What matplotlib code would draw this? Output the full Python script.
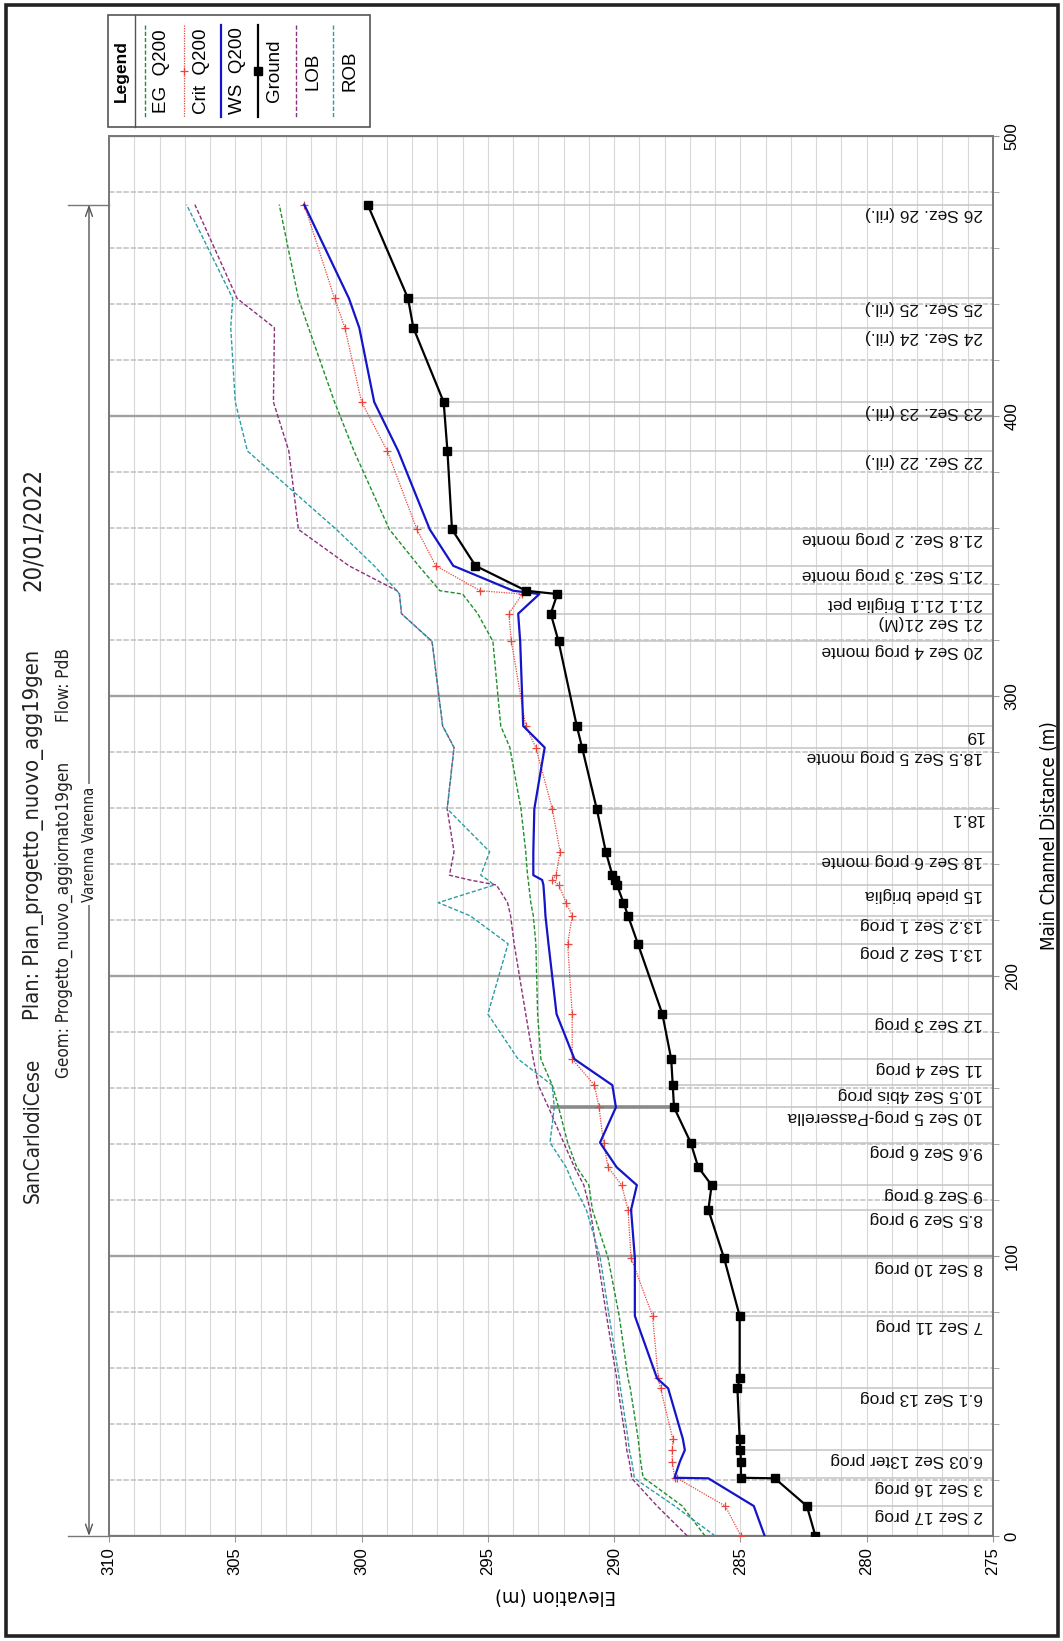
import matplotlib
matplotlib.use("Agg")
import matplotlib.pyplot as plt
import matplotlib.transforms as mtransforms
from matplotlib import font_manager
from matplotlib.patches import Rectangle

W, H = 1063, 1641

# sezioni: distanza lungo l'asta principale (m)
dist = [0.0, 10.7, 20.6, 20.8, 26.5, 30.7, 34.7, 52.7, 56.3, 78.6,
        99.3, 116.5, 125.3, 131.7, 140.5, 153.1, 161.0, 170.3, 186.4, 211.5,
        221.5, 226.2, 232.5, 234.3, 236.0, 244.4, 259.7, 281.6, 289.3, 319.5,
        329.4, 336.4, 337.6, 346.5, 359.5, 387.5, 405.0, 431.5, 442.0, 475.5]
labels = ['', '2 Sez 17 prog', '3 Sez 16 prog', '', '', '6.03 Sez 13ter prog', '', '6.1 Sez 13 prog', '', '7 Sez 11 prog',
          '8 Sez 10 prog', '8.5 Sez 9 prog', '9 Sez 8 prog', '', '9.6 Sez 6 prog', '10 Sez 5 prog-Passerella',
          '10.5 Sez 4bis prog', '11 Sez 4 prog', '12 Sez 3 prog', '13.1 Sez 2 prog',
          '13.2 Sez 1 prog', '', '15 piede briglia', '', '', '18 Sez 6 prog monte', '18.1', '18.5 Sez 5 prog monte', '19',
          '20 Sez 4 prog monte', '21 Sez 21(M)', '21.1 21.1 Briglia pet', '', '21.5 Sez. 3 prog monte',
          '21.8 Sez. 2 prog monte', '22 Sez. 22 (ril.)', '23 Sez. 23 (ril.)', '24 Sez. 24 (ril.)',
          '25 Sez. 25 (ril.)', '26 Sez. 26 (ril.)']
ground = [282.03, 282.37, 283.64, 284.98, 284.98, 285.0, 285.03, 285.12, 285.03, 285.03,
          285.65, 286.27, 286.14, 286.67, 286.97, 287.63, 287.68, 287.74, 288.09, 289.06,
          289.45, 289.63, 289.89, 289.98, 290.07, 290.33, 290.69, 291.27, 291.48, 292.2,
          292.51, 292.25, 293.49, 295.49, 296.42, 296.6, 296.75, 297.95, 298.16, 299.76]
ws_q200 = [284.04, 284.47, 286.27, 287.61, 287.4, 287.2, 287.28, 287.86, 288.3, 289.18,
           289.18, 289.33, 289.1, 289.9, 290.56, 289.93, 290.07, 291.57, 292.28, 292.6,
           292.72, 292.75, 292.8, 292.85, 293.2, 293.2, 293.16, 292.75, 293.6, 293.72,
           293.8, 292.96, 294.0, 296.37, 297.3, 298.55, 299.5, 300.09, 300.5, 302.27]
crit_q200 = [284.98, 285.6, 287.5, 287.6, 287.7, 287.7, 287.68, 288.16, 288.25, 288.48,
             289.33, 289.45, 289.7, 290.24, 290.42, 290.6, 290.78, 291.66, 291.66, 291.84,
             291.66, 291.9, 292.19, 292.45, 292.3, 292.14, 292.45, 293.1, 293.5, 294.07,
             294.17, 293.64, 295.3, 297.06, 297.81, 298.98, 300.0, 300.66, 301.07, 302.27]
eg_q200 = [286.4, 287.3, 288.8, 288.85, 288.95, 289.0, 289.05, 289.36, 289.45, 289.8,
           290.24, 290.86, 291.0, 291.48, 291.84, 292.2, 292.45, 292.9, 293.03, 293.1,
           293.2, 293.3, 293.38, 293.4, 293.43, 293.5, 293.69, 294.13, 294.49, 294.8,
           295.4, 296.0, 296.9, 297.74, 298.9, 300.3, 301.07, 302.1, 302.5, 303.26]
lob = [287.1, 288.3, 289.3, 289.3, 289.4, 289.5, 289.55, 289.85, 289.9, 290.3,
       290.65, 290.95, 291.2, 291.57, 292.0, 292.6, 293.0, 293.2, 293.5, 293.96,
       294.1, 294.22, 294.66, 295.72, 296.52, 296.34, 296.61, 296.34, 296.79, 297.21,
       298.42, 298.5, 298.6, 300.5, 302.5, 302.88, 303.49, 303.45, 304.93, 306.6]
rob = [286.0, 287.6, 289.2, 289.2, 289.3, 289.4, 289.45, 289.75, 289.8, 290.2,
       290.55, 291.1, 291.6, 291.9, 292.54, 292.37, 292.45, 293.8, 295.0, 294.2,
       295.7, 296.96, 294.75, 295.0, 295.28, 294.93, 296.61, 296.34, 296.79, 297.21,
       298.42, 298.5, 298.6, 299.5, 301.0, 304.52, 305.0, 305.18, 305.1, 306.93]

# passerella alla sez. 10
bridge_dist = 153.1
bridge_elev = [287.63, 292.45]

elev_ticks = [310, 305, 300, 295, 290, 285, 280, 275]
dist_ticks = [0, 100, 200, 300, 400, 500]

legend_names = ['EG  Q200', 'Crit  Q200', 'WS  Q200', 'Ground', 'LOB', 'ROB']
styles = [
    dict(color='#1f8f2a', lw=1.0, ls=(0, (3, 1.5))),
    dict(color='#e8453c', lw=0.9, ls=(0, (1, 1)), marker='+', ms=6, mew=0.9),
    dict(color='#1515c8', lw=1.6, ls='-'),
    dict(color='black', lw=1.6, ls='-', marker='s', ms=5.5),
    dict(color='#8c2f7c', lw=1.0, ls=(0, (3, 1.5))),
    dict(color='#2a9ea4', lw=1.0, ls=(0, (3, 1.5))),
]
series = [eg_q200, crit_q200, ws_q200, ground, lob, rob]


def pick_narrow():
    fonts = font_manager.fontManager.ttflist
    names = {f.name for f in fonts}
    for n in ['Liberation Sans Narrow', 'Arial Narrow']:
        if n in names:
            return {'family': n}, 1.0
    if any(f.name == 'DejaVu Sans' and f.stretch == 'condensed' for f in fonts):
        return {'family': 'DejaVu Sans', 'stretch': 'condensed'}, 0.9
    return {'family': 'Liberation Sans'}, 0.84


def main():
    plt.rcParams['font.family'] = ['Liberation Sans', 'DejaVu Sans']
    narrow, k = pick_narrow()

    fig = plt.figure(figsize=(W / 100, H / 100), dpi=100)
    ax = fig.add_axes([109 / W, 1 - 1536 / H, (993 - 109) / W, (1536 - 136) / H])

    ax.set_xlim(310, 275)
    ax.set_ylim(0, 500)
    ax.set_xticks(elev_ticks)
    ax.set_xticks(range(275, 311), minor=True)
    ax.set_yticks(dist_ticks)
    ax.set_yticks(range(0, 501, 20), minor=True)
    ax.yaxis.tick_right()

    ax.grid(which='both', axis='x', color='#d8d8d8', lw=0.8)
    ax.grid(which='minor', axis='y', color='#c8c8c8', lw=1.3, ls=(0, (3, 1)))
    ax.grid(which='major', axis='y', color='#a0a0a0', lw=1.7)
    ax.set_axisbelow(True)
    for s in ax.spines.values():
        s.set_color('#777777')
        s.set_linewidth(1.4)

    ax.tick_params(axis='y', which='both', direction='out', length=4.5, color='#999999',
                   right=True, left=False, labelsize=12, pad=4)
    ax.tick_params(axis='x', which='major', direction='out', length=4, color='#999999',
                   labelsize=12, pad=4)
    ax.tick_params(axis='x', which='minor', length=0)
    for t in ax.get_yticklabels():
        t.set_rotation(90)
        t.set_va('center')
    for t in ax.get_xticklabels():
        t.set_rotation(90)
        t.set_ha('center')

    # linee delle sezioni etichettate
    lab_d = [d for d, l in zip(dist, labels) if l]
    lab_g = [g for g, l in zip(ground, labels) if l]
    ax.hlines(lab_d, lab_g, 275, color='#c4c4c4', lw=1.1, zorder=1)

    ax.plot(bridge_elev, [bridge_dist, bridge_dist], color='#8a8a8a', lw=2.6, zorder=2)

    for vals, st, name in zip(series, styles, legend_names):
        ax.plot(vals, dist, label=name, zorder=3, **st)

    trans = mtransforms.blended_transform_factory(ax.transAxes, ax.transData)
    for d, l in zip(dist, labels):
        if l:
            ax.text(0.989, d - 0.6, l, transform=trans, rotation=180, rotation_mode='anchor',
                    ha='left', va='bottom', fontsize=12.5, color='#111111')

    # tratto Varenna Varenna
    xa = (89 - 109) / (993 - 109)
    xe = (68 - 109) / (993 - 109)
    ax.annotate('', xy=(xa, dist[0]), xytext=(xa, dist[-1]), xycoords=trans, textcoords=trans,
                arrowprops=dict(arrowstyle='<->,head_length=0.7,head_width=0.25', color='#555555',
                                lw=1.0, shrinkA=0, shrinkB=0), annotation_clip=False)
    for d in (dist[0], dist[-1]):
        ax.plot([xe, 0], [d, d], transform=trans, color='#777777', lw=1.0, clip_on=False)
    ax.text(xa, 247, 'Varenna Varenna', transform=trans, rotation=90, ha='center', va='center',
            fontsize=12 * k, color='#222222', bbox=dict(fc='white', ec='none', pad=2), **narrow)

    ax.text((1049 - 109) / 884, 0.5, 'Main Channel Distance (m)', transform=ax.transAxes,
            rotation=90, ha='center', va='center', fontsize=15 * k, **narrow)
    ax.text((555 - 109) / 884, (1536 - 1596) / 1400, 'Elevation (m)', transform=ax.transAxes,
            rotation=180, ha='center', va='center', fontsize=16 * k, **narrow)

    # cornice, titolo e legenda in coordinate pixel
    ov = fig.add_axes([0, 0, 1, 1], zorder=5)
    ov.set_xlim(0, W)
    ov.set_ylim(H, 0)
    ov.axis('off')
    ov.add_patch(Rectangle((6, 5), 1052, 1631, fill=False, lw=2.6, ec='#222222'))

    title_parts = [
        (33, 1203, 'SanCarlodiCese', 16.5),
        (33, 1020, 'Plan: Plan_progetto_nuovo_agg19gen', 17.5),
        (33, 591, '20/01/2022', 19),
        (64, 1078, 'Geom: Progetto_nuovo_aggiornato19gen', 13.7),
        (64, 722, 'Flow: PdB', 13.7),
    ]
    for x, y, s, fs in title_parts:
        ov.text(x, y, s, rotation=90, rotation_mode='anchor', ha='left', va='center',
                fontsize=fs * k, color='#222222', **narrow)

    ov.add_patch(Rectangle((108, 15), 262, 112, fill=False, lw=1.2, ec='#555555'))
    ov.plot([135, 135], [15, 127], color='#555555', lw=1.0)
    ov.text(121, 71, 'Legend', rotation=90, ha='center', va='center', fontsize=12.5,
            fontweight='bold')
    sample_x = [145, 184, 221, 258, 296, 333]
    for sx, st, name in zip(sample_x, styles, legend_names):
        st2 = dict(st)
        mk = st2.pop('marker', None)
        ms = st2.pop('ms', None)
        mew = st2.pop('mew', None)
        ov.plot([sx, sx], [25, 117], **st2)
        if mk:
            ov.plot([sx], [71], marker=mk, ms=ms, color=st['color'], mew=mew if mew else 1.0)
        ov.text(sx + 17, 71, name, rotation=90, ha='center', va='center', fontsize=13.5)

    fig.savefig('out.png', dpi=100)


if __name__ == '__main__':
    main()
